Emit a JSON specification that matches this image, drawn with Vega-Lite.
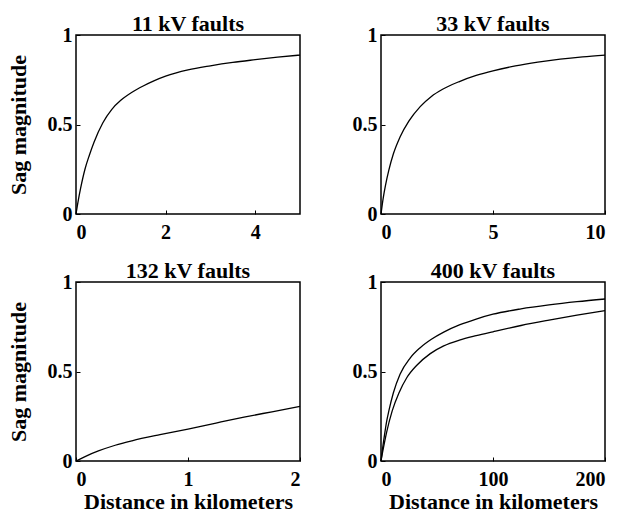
{
  "$schema": "https://vega.github.io/schema/vega-lite/v6.json",
  "background": "white",
  "padding": {"left": 6, "top": 12, "right": 5, "bottom": 0},
  "datasets": {
    "sag": [
      {"panel": "11", "curve": "a", "d": 0, "v": 0},
      {"panel": "11", "curve": "a", "d": 0.05, "v": 0.075},
      {"panel": "11", "curve": "a", "d": 0.1, "v": 0.14},
      {"panel": "11", "curve": "a", "d": 0.2, "v": 0.25},
      {"panel": "11", "curve": "a", "d": 0.3, "v": 0.33},
      {"panel": "11", "curve": "a", "d": 0.4, "v": 0.4},
      {"panel": "11", "curve": "a", "d": 0.6, "v": 0.51},
      {"panel": "11", "curve": "a", "d": 0.8, "v": 0.585},
      {"panel": "11", "curve": "a", "d": 1.0, "v": 0.635},
      {"panel": "11", "curve": "a", "d": 1.25, "v": 0.68},
      {"panel": "11", "curve": "a", "d": 1.5, "v": 0.715},
      {"panel": "11", "curve": "a", "d": 1.75, "v": 0.745},
      {"panel": "11", "curve": "a", "d": 2.0, "v": 0.77},
      {"panel": "11", "curve": "a", "d": 2.5, "v": 0.805},
      {"panel": "11", "curve": "a", "d": 3.0, "v": 0.828},
      {"panel": "11", "curve": "a", "d": 3.5, "v": 0.847},
      {"panel": "11", "curve": "a", "d": 4.0, "v": 0.862},
      {"panel": "11", "curve": "a", "d": 4.5, "v": 0.876},
      {"panel": "11", "curve": "a", "d": 5.0, "v": 0.888},

      {"panel": "33", "curve": "a", "d": 0, "v": 0},
      {"panel": "33", "curve": "a", "d": 0.1, "v": 0.09},
      {"panel": "33", "curve": "a", "d": 0.2, "v": 0.16},
      {"panel": "33", "curve": "a", "d": 0.35, "v": 0.245},
      {"panel": "33", "curve": "a", "d": 0.55, "v": 0.335},
      {"panel": "33", "curve": "a", "d": 0.85, "v": 0.43},
      {"panel": "33", "curve": "a", "d": 1.25, "v": 0.52},
      {"panel": "33", "curve": "a", "d": 1.75, "v": 0.6},
      {"panel": "33", "curve": "a", "d": 2.25, "v": 0.657},
      {"panel": "33", "curve": "a", "d": 2.75, "v": 0.697},
      {"panel": "33", "curve": "a", "d": 3.5, "v": 0.74},
      {"panel": "33", "curve": "a", "d": 4.25, "v": 0.774},
      {"panel": "33", "curve": "a", "d": 5, "v": 0.8},
      {"panel": "33", "curve": "a", "d": 6, "v": 0.827},
      {"panel": "33", "curve": "a", "d": 7, "v": 0.848},
      {"panel": "33", "curve": "a", "d": 8, "v": 0.865},
      {"panel": "33", "curve": "a", "d": 9, "v": 0.878},
      {"panel": "33", "curve": "a", "d": 10, "v": 0.888},

      {"panel": "132", "curve": "a", "d": 0, "v": 0},
      {"panel": "132", "curve": "a", "d": 0.1, "v": 0.03},
      {"panel": "132", "curve": "a", "d": 0.2, "v": 0.056},
      {"panel": "132", "curve": "a", "d": 0.35, "v": 0.088},
      {"panel": "132", "curve": "a", "d": 0.5, "v": 0.113},
      {"panel": "132", "curve": "a", "d": 0.75, "v": 0.147},
      {"panel": "132", "curve": "a", "d": 1.0, "v": 0.178},
      {"panel": "132", "curve": "a", "d": 1.25, "v": 0.212},
      {"panel": "132", "curve": "a", "d": 1.5, "v": 0.245},
      {"panel": "132", "curve": "a", "d": 1.75, "v": 0.275},
      {"panel": "132", "curve": "a", "d": 2.0, "v": 0.305},

      {"panel": "400", "curve": "upper", "d": 0, "v": 0},
      {"panel": "400", "curve": "upper", "d": 1, "v": 0.05},
      {"panel": "400", "curve": "upper", "d": 3, "v": 0.14},
      {"panel": "400", "curve": "upper", "d": 5, "v": 0.22},
      {"panel": "400", "curve": "upper", "d": 7, "v": 0.28},
      {"panel": "400", "curve": "upper", "d": 11, "v": 0.38},
      {"panel": "400", "curve": "upper", "d": 17, "v": 0.485},
      {"panel": "400", "curve": "upper", "d": 26, "v": 0.575},
      {"panel": "400", "curve": "upper", "d": 35, "v": 0.633},
      {"panel": "400", "curve": "upper", "d": 45, "v": 0.68},
      {"panel": "400", "curve": "upper", "d": 56, "v": 0.72},
      {"panel": "400", "curve": "upper", "d": 70, "v": 0.76},
      {"panel": "400", "curve": "upper", "d": 85, "v": 0.793},
      {"panel": "400", "curve": "upper", "d": 100, "v": 0.82},
      {"panel": "400", "curve": "upper", "d": 125, "v": 0.85},
      {"panel": "400", "curve": "upper", "d": 150, "v": 0.872},
      {"panel": "400", "curve": "upper", "d": 175, "v": 0.89},
      {"panel": "400", "curve": "upper", "d": 200, "v": 0.905},

      {"panel": "400", "curve": "lower", "d": 0, "v": 0},
      {"panel": "400", "curve": "lower", "d": 1, "v": 0.035},
      {"panel": "400", "curve": "lower", "d": 3, "v": 0.1},
      {"panel": "400", "curve": "lower", "d": 5, "v": 0.16},
      {"panel": "400", "curve": "lower", "d": 10, "v": 0.28},
      {"panel": "400", "curve": "lower", "d": 16, "v": 0.38},
      {"panel": "400", "curve": "lower", "d": 23, "v": 0.465},
      {"panel": "400", "curve": "lower", "d": 32, "v": 0.535},
      {"panel": "400", "curve": "lower", "d": 44, "v": 0.6},
      {"panel": "400", "curve": "lower", "d": 56, "v": 0.643},
      {"panel": "400", "curve": "lower", "d": 70, "v": 0.675},
      {"panel": "400", "curve": "lower", "d": 85, "v": 0.7},
      {"panel": "400", "curve": "lower", "d": 100, "v": 0.722},
      {"panel": "400", "curve": "lower", "d": 125, "v": 0.757},
      {"panel": "400", "curve": "lower", "d": 150, "v": 0.787},
      {"panel": "400", "curve": "lower", "d": 175, "v": 0.815},
      {"panel": "400", "curve": "lower", "d": 200, "v": 0.84}
    ]
  },
  "data": {"name": "sag"},
  "columns": 2,
  "bounds": "flush",
  "spacing": {"row": 68, "column": 81},
  "concat": [
    {
      "width": 224, "height": 179,
      "title": "11 kV faults",
      "transform": [{"filter": {"field": "panel", "equal": "11"}}],
      "mark": {"type": "line", "color": "black", "strokeWidth": 1.3, "interpolate": "monotone"},
      "encoding": {
        "x": {"field": "d", "type": "quantitative", "scale": {"domain": [0, 5], "nice": false}, "axis": {"values": [0, 2, 4], "title": null}},
        "y": {"field": "v", "type": "quantitative", "scale": {"domain": [0, 1], "nice": false}, "axis": {"values": [0, 0.5, 1], "title": "Sag magnitude"}},
        "detail": {"field": "curve"}
      }
    },
    {
      "width": 224, "height": 179,
      "title": "33 kV faults",
      "transform": [{"filter": {"field": "panel", "equal": "33"}}],
      "mark": {"type": "line", "color": "black", "strokeWidth": 1.3, "interpolate": "monotone"},
      "encoding": {
        "x": {"field": "d", "type": "quantitative", "scale": {"domain": [0, 10], "nice": false}, "axis": {"values": [0, 5, 10], "title": null}},
        "y": {"field": "v", "type": "quantitative", "scale": {"domain": [0, 1], "nice": false}, "axis": {"values": [0, 0.5, 1], "title": null}},
        "detail": {"field": "curve"}
      }
    },
    {
      "width": 224, "height": 179,
      "title": "132 kV faults",
      "transform": [{"filter": {"field": "panel", "equal": "132"}}],
      "mark": {"type": "line", "color": "black", "strokeWidth": 1.3, "interpolate": "monotone"},
      "encoding": {
        "x": {"field": "d", "type": "quantitative", "scale": {"domain": [0, 2], "nice": false}, "axis": {"values": [0, 1, 2], "title": "Distance in kilometers"}},
        "y": {"field": "v", "type": "quantitative", "scale": {"domain": [0, 1], "nice": false}, "axis": {"values": [0, 0.5, 1], "title": "Sag magnitude"}},
        "detail": {"field": "curve"}
      }
    },
    {
      "width": 224, "height": 179,
      "title": "400 kV faults",
      "transform": [{"filter": {"field": "panel", "equal": "400"}}],
      "mark": {"type": "line", "color": "black", "strokeWidth": 1.3, "interpolate": "monotone"},
      "encoding": {
        "x": {"field": "d", "type": "quantitative", "scale": {"domain": [0, 200], "nice": false}, "axis": {"values": [0, 100, 200], "title": "Distance in kilometers"}},
        "y": {"field": "v", "type": "quantitative", "scale": {"domain": [0, 1], "nice": false}, "axis": {"values": [0, 0.5, 1], "title": null}},
        "detail": {"field": "curve"}
      }
    }
  ],
  "config": {
    "font": "Liberation Serif",
    "view": {"stroke": "black", "strokeWidth": 1.5},
    "axis": {
      "domain": false,
      "grid": false,
      "ticks": true,
      "tickSize": -4,
      "tickColor": "black",
      "labelOverlap": false,
      "format": "~r",
      "labelFont": "Liberation Serif",
      "labelFontSize": 20,
      "labelFontWeight": "bold",
      "labelColor": "black",
      "titleFont": "Liberation Serif",
      "titleFontSize": 22,
      "titleFontWeight": "bold",
      "titleColor": "black"
    },
    "axisX": {"labelPadding": 12, "titlePadding": 2},
    "axisY": {"labelPadding": 8, "titlePadding": 17},
    "title": {"font": "Liberation Serif", "fontSize": 22, "fontWeight": "bold", "color": "black", "offset": -11, "frame": "group"}
  }
}
